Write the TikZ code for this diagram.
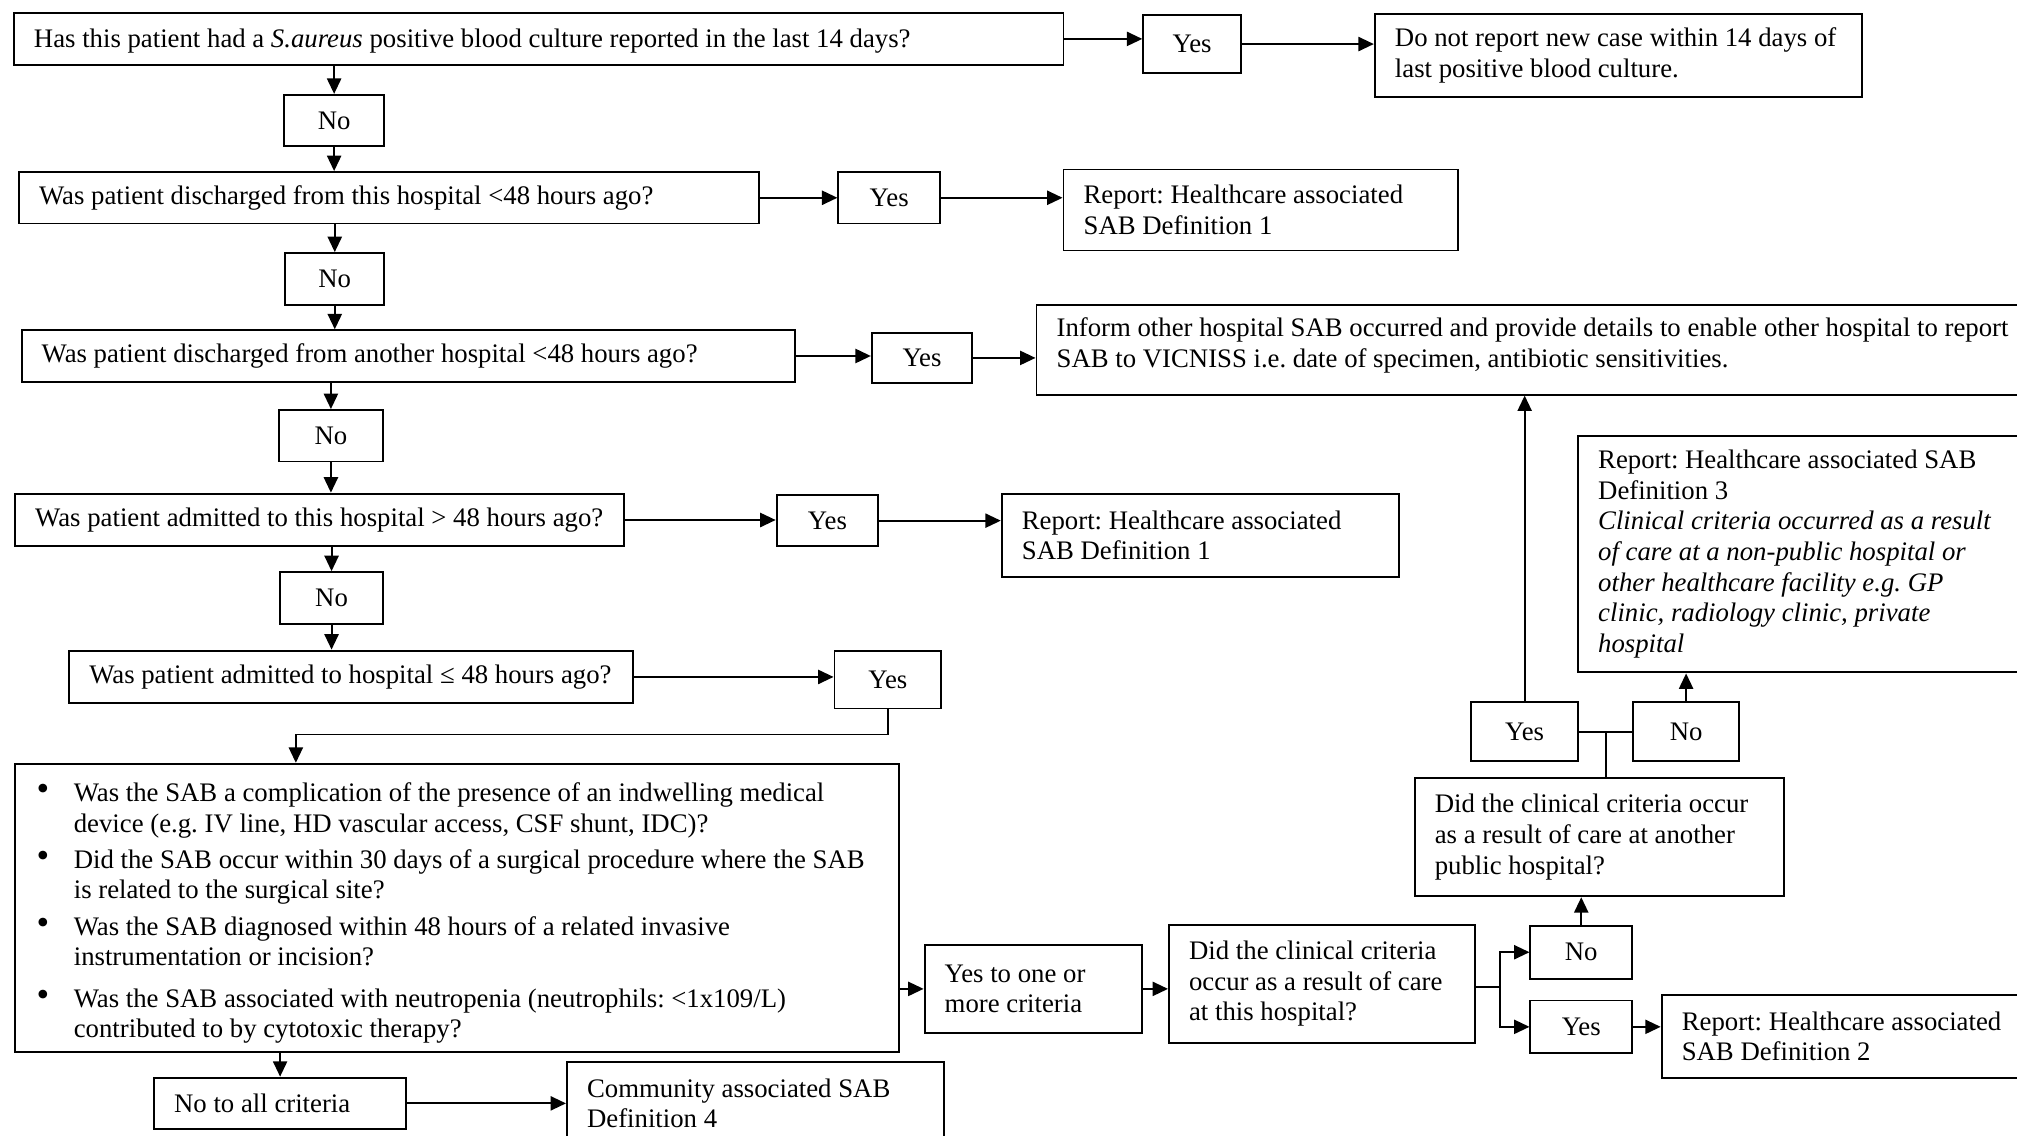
\documentclass[tikz,border=0pt]{standalone}
\usepackage{fontspec}
\usepackage{graphicx}
\setmainfont{Liberation Serif}
\usetikzlibrary{arrows.meta,calc}
\tikzset{
  box/.style={draw, line width=0.75pt, anchor=north west, inner sep=0pt},
  txt/.style={inner sep=0pt, align=left, font=\fontsize{10.4}{11.9}\selectfont\frenchspacing},
  arr/.style={line width=0.75pt, -{Triangle[length=6pt,width=5.5pt]}},
  ln/.style={line width=0.75pt},
}
% #1 text options, #2 name, #3 x1, #4 y1, #5 x2, #6 y2, #7 text (left aligned)
\newcommand\sabbox[7][]{%
  \pgfmathsetmacro\sabbw{(#5-#3)*0.5}%
  \pgfmathsetmacro\sabbh{(#6-#4)*0.5}%
  \node[box, minimum width=\sabbw pt, minimum height=\sabbh pt] (#2) at (#3,#4) {};
  \node[txt, anchor=west, #1] (#2t) at ([xshift=8pt]#2.west) {#7};}
% same, text centred
\newcommand\sabcbox[7][]{%
  \pgfmathsetmacro\sabbw{(#5-#3)*0.5}%
  \pgfmathsetmacro\sabbh{(#6-#4)*0.5}%
  \node[box, minimum width=\sabbw pt, minimum height=\sabbh pt] (#2) at (#3,#4) {};
  \node[txt, #1] (#2t) at (#2.center) {#7};}
\newcommand\sabbul{\raisebox{0.2pt}{\scalebox{1.35}{\textbullet}}}
\begin{document}
\begin{tikzpicture}[x=0.5pt,y=-0.5pt]
\clip (0,0) rectangle (1568,883);
% boxes
\sabbox[yshift=-0.8pt]{Q1}{10}{9}{826}{50}{Has this patient had a \textit{S.aureus} positive blood culture reported in the last 14 days?}
\sabcbox{Yes1}{888}{11}{964}{56}{Yes}
\sabbox{DoNot}{1068}{10}{1447}{75}{Do not report new case within 14 days of\\last positive blood culture.}
\sabcbox{No1}{220}{73}{298}{113}{No}
\sabbox{Q2}{14}{133}{589}{173}{Was patient discharged from this hospital <48 hours ago?}
\sabcbox{Yes2}{651}{133}{730}{173}{Yes}
\sabbox{R1a}{826}{131}{1133}{194}{Report: Healthcare associated\\SAB Definition 1}
\sabcbox{No2}{221}{196}{298}{236}{No}
\sabbox{Q3}{16}{256}{617}{296}{Was patient discharged from another hospital <48 hours ago?}
\sabcbox{Yes3}{677}{258}{755}{297}{Yes}
\sabbox[yshift=1.5pt]{Inform}{805}{236}{1600}{306}{Inform other hospital SAB occurred and provide details to enable other hospital to report\\SAB to VICNISS i.e. date of specimen, antibiotic sensitivities.}
\sabcbox{No3}{216}{318}{297}{358}{No}
\sabbox{Q4}{11}{383}{484}{424}{Was patient admitted to this hospital > 48 hours ago?}
\sabcbox{Yes4}{603}{384}{682}{424}{Yes}
\sabbox{R1b}{778}{383}{1087}{448}{Report: Healthcare associated\\SAB Definition 1}
\sabcbox{No4}{217}{444}{297}{484}{No}
\sabbox{Q5}{53}{505}{491}{546}{Was patient admitted to hospital ≤ 48 hours ago?}
\sabcbox{Yes5}{648}{505}{731}{550}{Yes}
\sabbox[xshift=-8pt, yshift=-2.2pt]{Bul}{11}{593}{698}{817}{%
\begin{tabular}{@{\hspace{8.5pt}}p{14.5pt}@{}l@{}}
\sabbul & Was the SAB a complication of the presence of an indwelling medical\\
 & device (e.g. IV line, HD vascular access, CSF shunt, IDC)?\\[2.2pt]
\sabbul & Did the SAB occur within 30 days of a surgical procedure where the SAB\\
 & is related to the surgical site?\\[2.2pt]
\sabbul & Was the SAB diagnosed within 48 hours of a related invasive\\
 & instrumentation or incision?\\[4.2pt]
\sabbul & Was the SAB associated with neutropenia (neutrophils: <1x109/L)\\
 & contributed to by cytotoxic therapy?
\end{tabular}}
\sabbox{NoAll}{119}{837}{315}{877}{No to all criteria}
\sabbox{Com}{440}{825}{733}{889}{Community associated SAB\\Definition 4}
\sabbox{YesOne}{718}{734}{887}{802}{Yes to one or\\more criteria}
\sabbox{This}{908}{718}{1146}{810}{Did the clinical criteria\\occur as a result of care\\at this hospital?}
\sabcbox{No5}{1189}{719}{1268}{760}{No}
\sabcbox{Yes6}{1189}{777}{1268}{818}{Yes}
\sabbox{R2}{1291}{773}{1600}{837}{Report: Healthcare associated\\SAB Definition 2}
\sabbox{Another}{1099}{604}{1386}{696}{Did the clinical criteria occur\\as a result of care at another\\public hospital?}
\sabcbox{Yes7}{1143}{545}{1226}{591}{Yes}
\sabcbox{No6}{1269}{545}{1351}{591}{No}
\sabbox{R3}{1226}{338}{1600}{522}{Report: Healthcare associated SAB\\Definition 3\\\textit{Clinical criteria occurred as a result}\\\textit{of care at a non-public hospital or}\\\textit{other healthcare facility e.g. GP}\\\textit{clinic, radiology clinic, private}\\\textit{hospital}}
% connectors
\draw[arr] (Q1.east) -- (Q1.east -| Yes1.west);
\draw[arr] (Yes1.east) -- (Yes1.east -| DoNot.west);
\draw[arr] (Q1.south -| No1.north) -- (No1.north);
\draw[arr] (No1.south) -- (No1.south |- Q2.north);
\draw[arr] (Q2.east) -- (Q2.east -| Yes2.west);
\draw[arr] (Yes2.east) -- (Yes2.east -| R1a.west);
\draw[arr] (Q2.south -| No2.north) -- (No2.north);
\draw[arr] (No2.south) -- (No2.south |- Q3.north);
\draw[arr] (Q3.east) -- (Q3.east -| Yes3.west);
\draw[arr] (Yes3.east) -- (Yes3.east -| Inform.west);
\draw[arr] (Q3.south -| No3.north) -- (No3.north);
\draw[arr] (No3.south) -- (No3.south |- Q4.north);
\draw[arr] (Q4.east) -- (Q4.east -| Yes4.west);
\draw[arr] (Yes4.east) -- (Yes4.east -| R1b.west);
\draw[arr] (Q4.south -| No4.north) -- (No4.north);
\draw[arr] (No4.south) -- (No4.south |- Q5.north);
\draw[arr] (Q5.east) -- (Q5.east -| Yes5.west);
\coordinate (b5) at (230,571);
\draw[arr] (Yes5.south) |- (b5) -- (b5 |- Bul.north);
\draw[arr] (Bul.south -| NoAll.north) -- (NoAll.north);
\draw[arr] (NoAll.east) -- (NoAll.east -| Com.west);
\draw[arr] (YesOne.west -| Bul.east) -- (YesOne.west);
\draw[arr] (YesOne.east) -- (YesOne.east -| This.west);
\coordinate (fork) at (1166,767);
\draw[ln] (This.east |- fork) -- (fork);
\draw[arr] (fork) |- (No5.west);
\draw[arr] (fork) |- (Yes6.west);
\draw[arr] (Yes6.east) -- (Yes6.east -| R2.west);
\draw[arr] (No5.north) -- (No5.north |- Another.south);
\coordinate (jn) at ($(Yes7.east)!0.5!(No6.west)$);
\draw[ln] (Yes7.east) -- (No6.west);
\draw[ln] (jn) -- (jn |- Another.north);
\draw[arr] (Yes7.north) -- (Yes7.north |- Inform.south);
\draw[arr] (No6.north) -- (No6.north |- R3.south);
\end{tikzpicture}
\end{document}
